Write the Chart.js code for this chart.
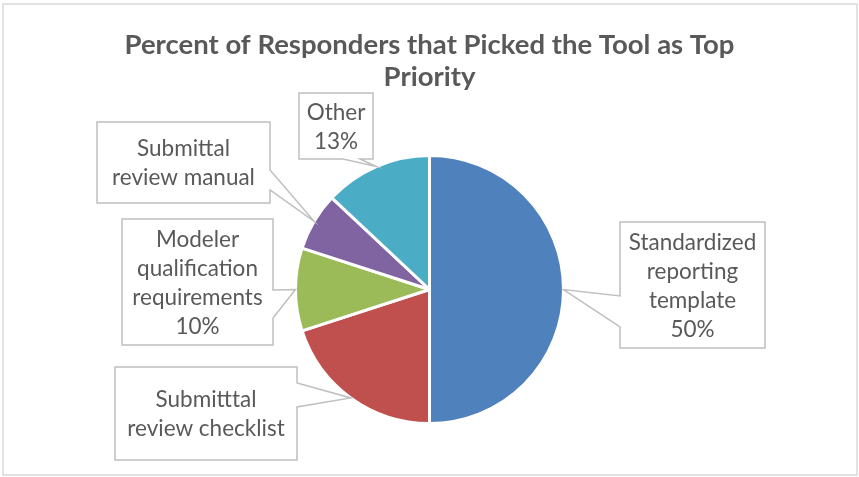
<!DOCTYPE html>
<html>
<head>
<meta charset="utf-8">
<script src="https://cdn.jsdelivr.net/npm/chart.js@4/dist/chart.umd.min.js"></script>
<style>
  html, body { margin: 0; padding: 0; background: #fff; }
  #wrap { width: 859px; height: 477px; position: relative; }
</style>
</head>
<body>
<div id="wrap"><canvas id="chart1" width="859" height="477"></canvas></div>
<script>
const categories = [
  "Standardized reporting template",
  "Submitttal review checklist",
  "Modeler qualification requirements",
  "Submittal review manual",
  "Other",
];
const percents = [50, 20, 10, 7, 13];
const sliceColors = ["#4F81BD", "#C0504D", "#9BBB59", "#8064A2", "#4BACC6"];

// text shown in each callout (some have no percent in the original)
const labelLines = [
  ["Standardized", "reporting", "template", "50%"],
  ["Submitttal", "review checklist"],
  ["Modeler", "qualification", "requirements", "10%"],
  ["Submittal", "review manual"],
  ["Other", "13%"],
];

// callout boxes: x, y, w, h, side of the tail, tail base offsets along that side
const callouts = [
  { box: [620, 222, 145, 126], side: "left", base: [74, 105] },
  { box: [115, 367, 182, 93], side: "right", base: [16, 40] },
  { box: [122, 219, 151, 126], side: "right", base: [71, 99] },
  { box: [97, 122, 173, 81], side: "right", base: [48, 68] },
  { box: [299, 93, 74, 66], side: "bottom", base: [44, 61] },
];

const calloutPlugin = {
  id: "callouts",
  afterDatasetsDraw(chart) {
    const c = chart.ctx;
    const arcs = chart.getDatasetMeta(0).data;
    arcs.forEach(function (arc, i) {
      const p = arc.getProps(["x", "y", "startAngle", "endAngle", "outerRadius"]);
      const mid = (p.startAngle + p.endAngle) / 2;
      const tx = p.x + Math.cos(mid) * p.outerRadius;
      const ty = p.y + Math.sin(mid) * p.outerRadius;
      const co = callouts[i];
      const [x, y, w, h] = co.box;
      const [b1, b2] = co.base;

      c.save();
      c.beginPath();
      c.moveTo(x, y);
      if (co.side === "bottom") {
        c.lineTo(x + w, y);
        c.lineTo(x + w, y + h);
        c.lineTo(x + b2, y + h);
        c.lineTo(tx, ty);
        c.lineTo(x + b1, y + h);
        c.lineTo(x, y + h);
      } else if (co.side === "right") {
        c.lineTo(x + w, y);
        c.lineTo(x + w, y + b1);
        c.lineTo(tx, ty);
        c.lineTo(x + w, y + b2);
        c.lineTo(x + w, y + h);
        c.lineTo(x, y + h);
      } else {
        c.lineTo(x + w, y);
        c.lineTo(x + w, y + h);
        c.lineTo(x, y + h);
        c.lineTo(x, y + b2);
        c.lineTo(tx, ty);
        c.lineTo(x, y + b1);
      }
      c.closePath();
      c.fillStyle = "#ffffff";
      c.fill();
      c.strokeStyle = "#BFBFBF";
      c.lineWidth = 1.5;
      c.stroke();

      const lines = labelLines[i];
      const lh = 29;
      c.fillStyle = "#595959";
      c.font = "22.5px Lato, 'Open Sans', sans-serif";
      c.textAlign = "center";
      c.textBaseline = "middle";
      const cy = y + h / 2 - ((lines.length - 1) * lh) / 2 + 1;
      lines.forEach(function (t, k) {
        c.fillText(t, x + w / 2, cy + k * lh);
      });
      c.restore();
    });

    // outer frame
    c.save();
    c.strokeStyle = "#D9D9D9";
    c.lineWidth = 1.5;
    c.strokeRect(3, 4, 854, 471);
    c.restore();
  },
};

new Chart(document.getElementById("chart1"), {
  type: "pie",
  data: {
    labels: categories,
    datasets: [
      {
        data: percents,
        backgroundColor: sliceColors,
        borderColor: "#ffffff",
        borderWidth: 3,
      },
    ],
  },
  options: {
    responsive: false,
    animation: false,
    layout: { padding: { top: 0, bottom: 52, left: 0, right: 0 } },
    plugins: {
      legend: { display: false },
      tooltip: { enabled: false },
      title: {
        display: true,
        text: ["Percent of Responders that Picked the Tool as Top", "Priority"],
        color: "#595959",
        font: { family: "Lato, 'Open Sans', sans-serif", size: 27.5, weight: "bold", lineHeight: 1.164 },
        padding: { top: 29, bottom: 61 },
      },
    },
  },
  plugins: [calloutPlugin],
});
</script>
</body>
</html>
